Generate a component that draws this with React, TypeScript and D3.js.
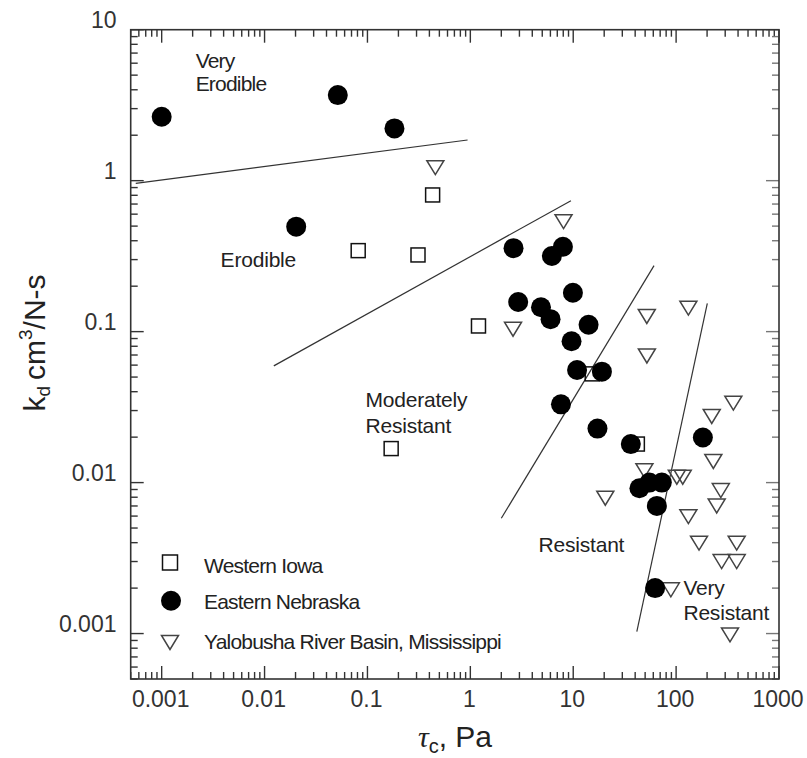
import React from "react";
import * as d3 from "d3";

// Western Iowa (open squares)
const iowaTau = [0.0813, 0.31, 0.43, 1.2, 0.17, 15.3, 42];
const iowaKd = [0.344, 0.322, 0.804, 0.109, 0.0168, 0.0525, 0.018];

// Eastern Nebraska (filled circles)
const nebraskaTau = [0.001, 0.0515, 0.183, 0.0203, 2.63, 6.2, 7.94, 9.93, 2.92, 4.86, 6.02, 14.1, 9.63, 10.9, 19.0, 7.6, 17.2, 36.3, 182, 44, 55, 72.6, 65, 62.5];
const nebraskaKd = [2.65, 3.69, 2.22, 0.496, 0.357, 0.317, 0.365, 0.181, 0.157, 0.145, 0.121, 0.111, 0.0864, 0.0557, 0.0543, 0.033, 0.0228, 0.018, 0.0199, 0.00918, 0.01, 0.01, 0.00701, 0.002];

// Yalobusha River Basin, Mississippi (open down triangles)
const yaloTau = [0.457, 8.05, 2.6, 51.9, 131.6, 52, 360, 222, 230, 49.2, 101.6, 116, 272, 248, 20.5, 131.6, 167, 388, 277, 388, 88.9, 334];
const yaloKd = [1.22, 0.535, 0.1037, 0.126, 0.143, 0.069, 0.0336, 0.0274, 0.0138, 0.012, 0.01086, 0.01086, 0.00885, 0.007, 0.00788, 0.00595, 0.00397, 0.00397, 0.003, 0.003, 0.00195, 0.00098];

// Class boundary lines [start, end]
const lineTau = [[0.00056, 0.94], [0.0123, 9.5], [2.0, 61], [41.5, 201]];
const lineKd = [[0.96, 1.86], [0.0593, 0.737], [0.0058, 0.2735], [0.00103, 0.154]];

// Region labels (anchor in data units)
const labelText = ["Very", "Erodible", "Erodible", "Moderately", "Resistant", "Resistant", "Very", "Resistant"];
const labelTau = [0.00214, 0.00214, 0.00374, 0.0957, 0.0957, 4.6, 117.8, 117.8];
const labelKd = [5.57, 3.93, 0.27, 0.0317, 0.0214, 0.00349, 0.0018, 0.00123];

const xTickValues = [0.001, 0.01, 0.1, 1, 10, 100, 1000];
const xTickLabels = ["0.001", "0.01", "0.1", "1", "10", "100", "1000"];
const yTickValues = [0.001, 0.01, 0.1, 1, 10];
const yTickLabels = ["0.001", "0.01", "0.1", "1", "10"];

const legendNames = ["Western Iowa", "Eastern Nebraska", "Yalobusha River Basin, Mississippi"];

const FONT = "'Liberation Sans', Arial, Helvetica, sans-serif";

function minorTicks(lo: number, hi: number) {
  const out: number[] = [];
  for (let e = Math.floor(Math.log10(lo)); e <= Math.ceil(Math.log10(hi)); e++) {
    for (let k = 1; k <= 9; k++) {
      const v = k * Math.pow(10, e);
      if (v >= lo * 0.9999 && v <= hi * 1.0001) out.push(v);
    }
  }
  return out;
}

function tri(cx: number, cy: number, w = 17, h = 14) {
  return `M${cx - w / 2},${cy - h / 2}L${cx + w / 2},${cy - h / 2}L${cx},${cy + h / 2}Z`;
}

export default function App() {
  const W = 807, H = 758;
  const left = 130.7, right = 779, top = 29.7, bottom = 679;
  const x = d3.scaleLog().domain([0.0005, 1000]).range([left, right]);
  const y = d3.scaleLog().domain([0.0005, 10]).range([bottom, top]);

  const xMinor = minorTicks(0.0005, 1000);
  const yMinor = minorTicks(0.0005, 10);
  const isMajor = (v: number) => Math.abs(Math.log10(v) - Math.round(Math.log10(v))) < 1e-6;

  const axisColor = "#333";
  const majorLen = 13, minorLen = 7;

  return (
    <svg width={W} height={H} style={{ position: "absolute", left: 0, top: 0, background: "#fff" }} fontFamily={FONT}>
      <rect x={0} y={0} width={W} height={H} fill="#fff" />
      {/* boundary lines */}
      {lineTau.map((t, i) => (
        <line key={"l" + i} x1={x(t[0])} y1={y(lineKd[i][0])} x2={x(t[1])} y2={y(lineKd[i][1])} stroke="#333" strokeWidth={1.2} />
      ))}

      {/* ticks */}
      {xMinor.map((v, i) => {
        const len = isMajor(v) ? majorLen : minorLen;
        const px = x(v);
        return (
          <g key={"xt" + i}>
            <line x1={px} x2={px} y1={bottom} y2={bottom - len} stroke={axisColor} strokeWidth={1.4} />
            <line x1={px} x2={px} y1={top} y2={top + len} stroke={axisColor} strokeWidth={1.4} />
          </g>
        );
      })}
      {yMinor.map((v, i) => {
        const len = isMajor(v) ? majorLen : minorLen;
        const py = y(v);
        return (
          <g key={"yt" + i}>
            <line x1={left} x2={left + len} y1={py} y2={py} stroke={axisColor} strokeWidth={1.4} />
            <line x1={right} x2={right - len} y1={py} y2={py} stroke="#777" strokeWidth={1.4} />
          </g>
        );
      })}
      {/* frame */}
      <rect x={left} y={top} width={right - left} height={bottom - top} fill="none" stroke={axisColor} strokeWidth={1.6} />

      {/* tick labels */}
      {xTickValues.map((v, i) => (
        <text key={"xl" + i} x={x(v) - 1} y={707.3} textAnchor="middle" fontSize={23} fill="#333">{xTickLabels[i]}</text>
      ))}
      {yTickValues.map((v, i) => (
        <text key={"yl" + i} x={116.5} y={y(v) - 1.5} textAnchor="end" fontSize={23} fill="#333">{yTickLabels[i]}</text>
      ))}

      {/* axis titles */}
      <text x={455} y={747} textAnchor="middle" fontSize={30} fill="#222">
        <tspan fontStyle="italic" fontFamily="'Liberation Serif', 'DejaVu Serif', serif">τ</tspan>
        <tspan fontSize={20} dy={6}>c</tspan>
        <tspan dy={-6}>, Pa</tspan>
      </text>
      <text transform="translate(45,343) rotate(-90)" textAnchor="middle" fontSize={30} fill="#222">
        <tspan>k</tspan>
        <tspan fontSize={19} dy={5}>d</tspan>
        <tspan dy={-5} dx={6}>cm</tspan>
        <tspan fontSize={19} dy={-13}>3</tspan>
        <tspan dy={13}>/N-s</tspan>
      </text>

      {/* region labels */}
      {labelText.map((t, i) => (
        <text key={"rl" + i} x={x(labelTau[i])} y={y(labelKd[i])} fontSize={21} letterSpacing={i < 2 ? -0.8 : -0.2} fill="#222">{t}</text>
      ))}

      {/* data */}
      {iowaTau.map((t, i) => (
        <rect key={"sq" + i} x={x(t) - 7} y={y(iowaKd[i]) - 7} width={14} height={14} fill="none" stroke="#111" strokeWidth={1.5} />
      ))}
      {yaloTau.map((t, i) => (
        <path key={"tr" + i} d={tri(x(t), y(yaloKd[i]))} fill="none" stroke="#444" strokeWidth={1.5} />
      ))}
      {nebraskaTau.map((t, i) => (
        <circle key={"c" + i} cx={x(t)} cy={y(nebraskaKd[i])} r={10} fill="#000" />
      ))}

      {/* legend */}
      <rect x={170 - 7.5} y={562.5 - 7.5} width={15} height={15} fill="none" stroke="#111" strokeWidth={1.5} />
      <circle cx={171} cy={600.7} r={10} fill="#000" />
      <path d={tri(170, 642.5)} fill="none" stroke="#444" strokeWidth={1.5} />
      {legendNames.map((n, i) => (
        <text key={"lg" + i} x={204} y={[572.7, 608.7, 649.3][i]} fontSize={21} letterSpacing={-0.8} fill="#222">{n}</text>
      ))}
    </svg>
  );
}
